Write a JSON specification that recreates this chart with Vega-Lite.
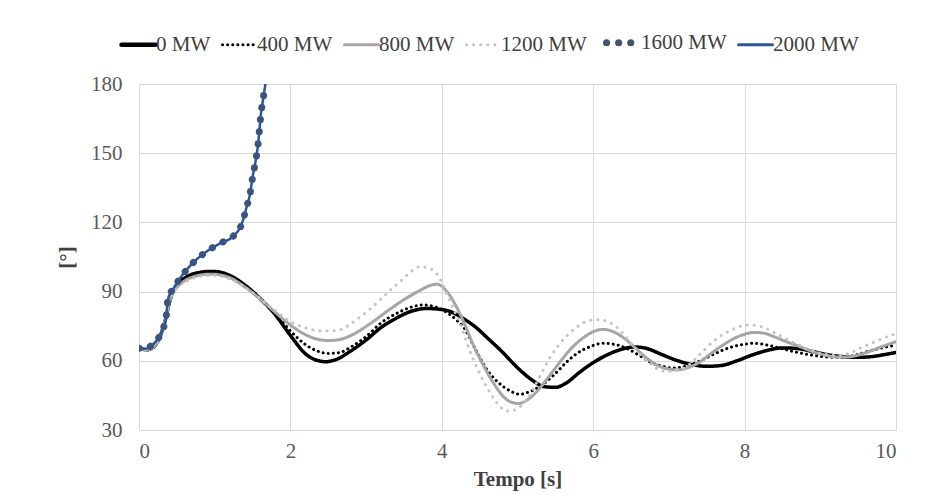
{
  "$schema": "https://vega.github.io/schema/vega-lite/v6.json",
  "width": 757,
  "height": 346,
  "autosize": {"type": "none"},
  "padding": {"left": 139, "top": 84, "right": 29, "bottom": 73},
  "background": "white",
  "config": {
    "font": "Times New Roman",
    "view": {"stroke": null},
    "axis": {"grid": true, "gridColor": "#D9D9D9", "gridWidth": 1, "domain": false, "ticks": false, "labelFont": "Times New Roman", "labelFontSize": 21, "labelColor": "#595959", "titleFont": "Times New Roman", "titleFontSize": 21, "titleFontWeight": "bold", "titleColor": "#404040"},
    "legend": {"labelFont": "Times New Roman", "labelFontSize": 21}
  },
  "data": {"values": [
    {"s":"0 MW","t":0,"v":65.5},{"s":"0 MW","t":0.1,"v":64.8},{"s":"0 MW","t":0.2,"v":66.2},{"s":"0 MW","t":0.3,"v":72.5},{"s":"0 MW","t":0.35,"v":78},{"s":"0 MW","t":0.4,"v":85},{"s":"0 MW","t":0.45,"v":90},{"s":"0 MW","t":0.5,"v":93},{"s":"0 MW","t":0.6,"v":95.8},{"s":"0 MW","t":0.7,"v":97.5},{"s":"0 MW","t":0.8,"v":98.3},{"s":"0 MW","t":0.9,"v":98.7},{"s":"0 MW","t":1.0,"v":98.7},{"s":"0 MW","t":1.1,"v":98.2},{"s":"0 MW","t":1.2,"v":97},{"s":"0 MW","t":1.4,"v":92.8},{"s":"0 MW","t":1.6,"v":87},{"s":"0 MW","t":1.8,"v":80},{"s":"0 MW","t":2.0,"v":71},{"s":"0 MW","t":2.2,"v":63},{"s":"0 MW","t":2.35,"v":60.2},{"s":"0 MW","t":2.47,"v":59.6},{"s":"0 MW","t":2.6,"v":60.5},{"s":"0 MW","t":2.8,"v":64.3},{"s":"0 MW","t":3.0,"v":69},{"s":"0 MW","t":3.2,"v":74.5},{"s":"0 MW","t":3.4,"v":78.5},{"s":"0 MW","t":3.6,"v":81.5},{"s":"0 MW","t":3.8,"v":82.7},{"s":"0 MW","t":3.95,"v":82.4},{"s":"0 MW","t":4.1,"v":81.5},{"s":"0 MW","t":4.3,"v":78},{"s":"0 MW","t":4.45,"v":74.5},{"s":"0 MW","t":4.6,"v":70},{"s":"0 MW","t":4.8,"v":63.8},{"s":"0 MW","t":5.0,"v":57},{"s":"0 MW","t":5.2,"v":51.5},{"s":"0 MW","t":5.35,"v":48.8},{"s":"0 MW","t":5.5,"v":48.5},{"s":"0 MW","t":5.65,"v":50.5},{"s":"0 MW","t":5.8,"v":54.5},{"s":"0 MW","t":6.0,"v":59.2},{"s":"0 MW","t":6.2,"v":62.8},{"s":"0 MW","t":6.4,"v":65.2},{"s":"0 MW","t":6.55,"v":66},{"s":"0 MW","t":6.7,"v":65.4},{"s":"0 MW","t":6.9,"v":62.8},{"s":"0 MW","t":7.1,"v":60.2},{"s":"0 MW","t":7.3,"v":58.4},{"s":"0 MW","t":7.5,"v":57.6},{"s":"0 MW","t":7.7,"v":58},{"s":"0 MW","t":7.9,"v":60},{"s":"0 MW","t":8.1,"v":62.5},{"s":"0 MW","t":8.3,"v":64.5},{"s":"0 MW","t":8.5,"v":65.6},{"s":"0 MW","t":8.7,"v":65.3},{"s":"0 MW","t":8.9,"v":64},{"s":"0 MW","t":9.1,"v":62.6},{"s":"0 MW","t":9.3,"v":61.8},{"s":"0 MW","t":9.5,"v":61.5},{"s":"0 MW","t":9.7,"v":61.9},{"s":"0 MW","t":9.85,"v":62.7},{"s":"0 MW","t":10,"v":63.6},

    {"s":"400 MW","t":0,"v":65.5},{"s":"400 MW","t":0.1,"v":64.8},{"s":"400 MW","t":0.2,"v":66.2},{"s":"400 MW","t":0.3,"v":72.5},{"s":"400 MW","t":0.35,"v":78},{"s":"400 MW","t":0.4,"v":85},{"s":"400 MW","t":0.45,"v":89.8},{"s":"400 MW","t":0.5,"v":92.5},{"s":"400 MW","t":0.6,"v":95.3},{"s":"400 MW","t":0.7,"v":96.9},{"s":"400 MW","t":0.8,"v":97.7},{"s":"400 MW","t":0.9,"v":98},{"s":"400 MW","t":1.0,"v":98},{"s":"400 MW","t":1.1,"v":97.5},{"s":"400 MW","t":1.2,"v":96.3},{"s":"400 MW","t":1.4,"v":92.3},{"s":"400 MW","t":1.6,"v":86.8},{"s":"400 MW","t":1.8,"v":80.5},{"s":"400 MW","t":2.0,"v":73},{"s":"400 MW","t":2.2,"v":67},{"s":"400 MW","t":2.35,"v":64.3},{"s":"400 MW","t":2.5,"v":63.2},{"s":"400 MW","t":2.65,"v":63.6},{"s":"400 MW","t":2.8,"v":66},{"s":"400 MW","t":3.0,"v":70.5},{"s":"400 MW","t":3.2,"v":76.5},{"s":"400 MW","t":3.4,"v":80.5},{"s":"400 MW","t":3.6,"v":83.3},{"s":"400 MW","t":3.75,"v":84.2},{"s":"400 MW","t":3.9,"v":83.5},{"s":"400 MW","t":4.0,"v":82.2},{"s":"400 MW","t":4.2,"v":77.5},{"s":"400 MW","t":4.3,"v":74},{"s":"400 MW","t":4.42,"v":66.5},{"s":"400 MW","t":4.6,"v":56},{"s":"400 MW","t":4.75,"v":50.5},{"s":"400 MW","t":4.9,"v":47},{"s":"400 MW","t":5.03,"v":45.5},{"s":"400 MW","t":5.15,"v":46.5},{"s":"400 MW","t":5.3,"v":49},{"s":"400 MW","t":5.5,"v":54.5},{"s":"400 MW","t":5.65,"v":59.5},{"s":"400 MW","t":5.8,"v":63.5},{"s":"400 MW","t":5.95,"v":66},{"s":"400 MW","t":6.13,"v":67.6},{"s":"400 MW","t":6.3,"v":67},{"s":"400 MW","t":6.45,"v":65.3},{"s":"400 MW","t":6.6,"v":62.5},{"s":"400 MW","t":6.75,"v":59.5},{"s":"400 MW","t":6.9,"v":57.8},{"s":"400 MW","t":7.05,"v":56.9},{"s":"400 MW","t":7.2,"v":57.5},{"s":"400 MW","t":7.4,"v":59.8},{"s":"400 MW","t":7.6,"v":63},{"s":"400 MW","t":7.8,"v":65.7},{"s":"400 MW","t":8.0,"v":67.2},{"s":"400 MW","t":8.12,"v":67.6},{"s":"400 MW","t":8.3,"v":66.8},{"s":"400 MW","t":8.5,"v":65.2},{"s":"400 MW","t":8.7,"v":63.6},{"s":"400 MW","t":8.9,"v":62.4},{"s":"400 MW","t":9.1,"v":61.6},{"s":"400 MW","t":9.3,"v":61.5},{"s":"400 MW","t":9.45,"v":62.3},{"s":"400 MW","t":9.6,"v":63.8},{"s":"400 MW","t":9.8,"v":65.5},{"s":"400 MW","t":10,"v":66.8},

    {"s":"800 MW","t":0,"v":65.5},{"s":"800 MW","t":0.1,"v":64.8},{"s":"800 MW","t":0.2,"v":66.2},{"s":"800 MW","t":0.3,"v":72.5},{"s":"800 MW","t":0.35,"v":78},{"s":"800 MW","t":0.4,"v":85},{"s":"800 MW","t":0.45,"v":89.5},{"s":"800 MW","t":0.5,"v":91.8},{"s":"800 MW","t":0.6,"v":94.6},{"s":"800 MW","t":0.7,"v":96.2},{"s":"800 MW","t":0.8,"v":97.1},{"s":"800 MW","t":0.9,"v":97.5},{"s":"800 MW","t":1.0,"v":97.5},{"s":"800 MW","t":1.1,"v":97},{"s":"800 MW","t":1.2,"v":96},{"s":"800 MW","t":1.4,"v":92},{"s":"800 MW","t":1.6,"v":86.8},{"s":"800 MW","t":1.8,"v":81},{"s":"800 MW","t":2.0,"v":75.5},{"s":"800 MW","t":2.2,"v":71.3},{"s":"800 MW","t":2.35,"v":69.4},{"s":"800 MW","t":2.5,"v":68.8},{"s":"800 MW","t":2.65,"v":69.2},{"s":"800 MW","t":2.8,"v":71},{"s":"800 MW","t":3.05,"v":76},{"s":"800 MW","t":3.3,"v":82},{"s":"800 MW","t":3.5,"v":86.5},{"s":"800 MW","t":3.7,"v":90.3},{"s":"800 MW","t":3.85,"v":92.7},{"s":"800 MW","t":3.93,"v":93.2},{"s":"800 MW","t":4.0,"v":92.3},{"s":"800 MW","t":4.08,"v":89.5},{"s":"800 MW","t":4.2,"v":83},{"s":"800 MW","t":4.3,"v":76},{"s":"800 MW","t":4.42,"v":66.5},{"s":"800 MW","t":4.55,"v":58},{"s":"800 MW","t":4.68,"v":50.5},{"s":"800 MW","t":4.8,"v":45},{"s":"800 MW","t":4.92,"v":42},{"s":"800 MW","t":5.02,"v":41.5},{"s":"800 MW","t":5.12,"v":42.8},{"s":"800 MW","t":5.25,"v":46.5},{"s":"800 MW","t":5.4,"v":52.5},{"s":"800 MW","t":5.55,"v":59},{"s":"800 MW","t":5.7,"v":65},{"s":"800 MW","t":5.85,"v":69.5},{"s":"800 MW","t":6.0,"v":72.6},{"s":"800 MW","t":6.13,"v":73.6},{"s":"800 MW","t":6.25,"v":72.8},{"s":"800 MW","t":6.4,"v":70},{"s":"800 MW","t":6.55,"v":65.8},{"s":"800 MW","t":6.7,"v":61.3},{"s":"800 MW","t":6.85,"v":58},{"s":"800 MW","t":7.0,"v":56.4},{"s":"800 MW","t":7.12,"v":56.1},{"s":"800 MW","t":7.25,"v":57},{"s":"800 MW","t":7.4,"v":59.3},{"s":"800 MW","t":7.55,"v":63},{"s":"800 MW","t":7.7,"v":66.5},{"s":"800 MW","t":7.85,"v":69.5},{"s":"800 MW","t":8.0,"v":71.5},{"s":"800 MW","t":8.12,"v":72.3},{"s":"800 MW","t":8.25,"v":72},{"s":"800 MW","t":8.4,"v":70.3},{"s":"800 MW","t":8.55,"v":68.3},{"s":"800 MW","t":8.7,"v":66.5},{"s":"800 MW","t":8.9,"v":64},{"s":"800 MW","t":9.1,"v":62.2},{"s":"800 MW","t":9.25,"v":61.6},{"s":"800 MW","t":9.4,"v":61.8},{"s":"800 MW","t":9.6,"v":63.5},{"s":"800 MW","t":9.8,"v":66},{"s":"800 MW","t":10,"v":68.3},

    {"s":"1200 MW","t":0,"v":65.5},{"s":"1200 MW","t":0.1,"v":64.8},{"s":"1200 MW","t":0.2,"v":66.2},{"s":"1200 MW","t":0.3,"v":72.5},{"s":"1200 MW","t":0.35,"v":78},{"s":"1200 MW","t":0.4,"v":85},{"s":"1200 MW","t":0.45,"v":89.3},{"s":"1200 MW","t":0.5,"v":91.5},{"s":"1200 MW","t":0.6,"v":94},{"s":"1200 MW","t":0.7,"v":95.6},{"s":"1200 MW","t":0.8,"v":96.5},{"s":"1200 MW","t":0.9,"v":97},{"s":"1200 MW","t":1.0,"v":97},{"s":"1200 MW","t":1.1,"v":96.5},{"s":"1200 MW","t":1.2,"v":95.5},{"s":"1200 MW","t":1.4,"v":91.8},{"s":"1200 MW","t":1.6,"v":87},{"s":"1200 MW","t":1.8,"v":81.8},{"s":"1200 MW","t":2.0,"v":77},{"s":"1200 MW","t":2.2,"v":74.3},{"s":"1200 MW","t":2.4,"v":73},{"s":"1200 MW","t":2.6,"v":73},{"s":"1200 MW","t":2.75,"v":75},{"s":"1200 MW","t":2.92,"v":79},{"s":"1200 MW","t":3.05,"v":82.3},{"s":"1200 MW","t":3.18,"v":86.3},{"s":"1200 MW","t":3.3,"v":90},{"s":"1200 MW","t":3.45,"v":94.3},{"s":"1200 MW","t":3.6,"v":98.8},{"s":"1200 MW","t":3.71,"v":100.8},{"s":"1200 MW","t":3.82,"v":100.2},{"s":"1200 MW","t":3.93,"v":97.9},{"s":"1200 MW","t":4.0,"v":94},{"s":"1200 MW","t":4.06,"v":89.5},{"s":"1200 MW","t":4.15,"v":82.8},{"s":"1200 MW","t":4.24,"v":76.2},{"s":"1200 MW","t":4.33,"v":68},{"s":"1200 MW","t":4.42,"v":60.3},{"s":"1200 MW","t":4.5,"v":54.5},{"s":"1200 MW","t":4.59,"v":48.8},{"s":"1200 MW","t":4.7,"v":43},{"s":"1200 MW","t":4.8,"v":39.2},{"s":"1200 MW","t":4.88,"v":38.2},{"s":"1200 MW","t":4.96,"v":38.6},{"s":"1200 MW","t":5.05,"v":40.5},{"s":"1200 MW","t":5.2,"v":47.5},{"s":"1200 MW","t":5.3,"v":53.5},{"s":"1200 MW","t":5.43,"v":61.5},{"s":"1200 MW","t":5.55,"v":67},{"s":"1200 MW","t":5.65,"v":70.8},{"s":"1200 MW","t":5.76,"v":74},{"s":"1200 MW","t":5.87,"v":76.5},{"s":"1200 MW","t":6.0,"v":77.7},{"s":"1200 MW","t":6.09,"v":77.8},{"s":"1200 MW","t":6.2,"v":76.8},{"s":"1200 MW","t":6.31,"v":74.5},{"s":"1200 MW","t":6.42,"v":70.8},{"s":"1200 MW","t":6.53,"v":66.3},{"s":"1200 MW","t":6.64,"v":62},{"s":"1200 MW","t":6.75,"v":58.8},{"s":"1200 MW","t":6.86,"v":56.3},{"s":"1200 MW","t":6.97,"v":55.3},{"s":"1200 MW","t":7.08,"v":55.6},{"s":"1200 MW","t":7.24,"v":57.6},{"s":"1200 MW","t":7.37,"v":61.5},{"s":"1200 MW","t":7.5,"v":65.8},{"s":"1200 MW","t":7.65,"v":70},{"s":"1200 MW","t":7.8,"v":73},{"s":"1200 MW","t":7.93,"v":74.8},{"s":"1200 MW","t":8.03,"v":75.5},{"s":"1200 MW","t":8.15,"v":75.3},{"s":"1200 MW","t":8.25,"v":74.5},{"s":"1200 MW","t":8.4,"v":72},{"s":"1200 MW","t":8.55,"v":69.5},{"s":"1200 MW","t":8.69,"v":67.3},{"s":"1200 MW","t":8.85,"v":65},{"s":"1200 MW","t":9.0,"v":63.3},{"s":"1200 MW","t":9.15,"v":62.4},{"s":"1200 MW","t":9.26,"v":62.3},{"s":"1200 MW","t":9.4,"v":63.5},{"s":"1200 MW","t":9.55,"v":65.8},{"s":"1200 MW","t":9.7,"v":68},{"s":"1200 MW","t":9.85,"v":70},{"s":"1200 MW","t":10,"v":71.8},

    {"s":"1600 MW","t":0,"v":65.5},{"s":"1600 MW","t":0.08,"v":65.2},{"s":"1600 MW","t":0.17,"v":66.8},{"s":"1600 MW","t":0.25,"v":69.5},{"s":"1600 MW","t":0.3,"v":72.6},{"s":"1600 MW","t":0.36,"v":79.4},{"s":"1600 MW","t":0.38,"v":86.3},{"s":"1600 MW","t":0.47,"v":92.1},{"s":"1600 MW","t":0.59,"v":97.9},{"s":"1600 MW","t":0.73,"v":103},{"s":"1600 MW","t":0.89,"v":107.3},{"s":"1600 MW","t":1.07,"v":110.9},{"s":"1600 MW","t":1.25,"v":114.2},{"s":"1600 MW","t":1.36,"v":119.6},{"s":"1600 MW","t":1.42,"v":126.5},{"s":"1600 MW","t":1.47,"v":132.9},{"s":"1600 MW","t":1.5,"v":139.5},{"s":"1600 MW","t":1.54,"v":146.5},{"s":"1600 MW","t":1.57,"v":153.1},{"s":"1600 MW","t":1.59,"v":159.7},{"s":"1600 MW","t":1.61,"v":166.8},{"s":"1600 MW","t":1.64,"v":173.5},{"s":"1600 MW","t":1.67,"v":180},

    {"s":"2000 MW","t":0,"v":65.5},{"s":"2000 MW","t":0.08,"v":65.2},{"s":"2000 MW","t":0.17,"v":66.8},{"s":"2000 MW","t":0.25,"v":69.5},{"s":"2000 MW","t":0.3,"v":72.6},{"s":"2000 MW","t":0.36,"v":79.4},{"s":"2000 MW","t":0.38,"v":86.3},{"s":"2000 MW","t":0.47,"v":92.1},{"s":"2000 MW","t":0.59,"v":97.9},{"s":"2000 MW","t":0.73,"v":103},{"s":"2000 MW","t":0.89,"v":107.3},{"s":"2000 MW","t":1.07,"v":110.9},{"s":"2000 MW","t":1.25,"v":114.2},{"s":"2000 MW","t":1.36,"v":119.6},{"s":"2000 MW","t":1.42,"v":126.5},{"s":"2000 MW","t":1.47,"v":132.9},{"s":"2000 MW","t":1.5,"v":139.5},{"s":"2000 MW","t":1.54,"v":146.5},{"s":"2000 MW","t":1.57,"v":153.1},{"s":"2000 MW","t":1.59,"v":159.7},{"s":"2000 MW","t":1.61,"v":166.8},{"s":"2000 MW","t":1.64,"v":173.5},{"s":"2000 MW","t":1.67,"v":180}
  ]},
  "encoding": {
    "x": {"field": "t", "type": "quantitative", "scale": {"domain": [0, 10], "nice": false}, "axis": {"values": [0, 2, 4, 6, 8, 10], "title": "Tempo [s]", "labelPadding": 10, "titlePadding": 7}},
    "y": {"field": "v", "type": "quantitative", "scale": {"domain": [30, 180], "nice": false}, "axis": {"values": [30, 60, 90, 120, 150, 180], "title": "[°]", "labelPadding": 17, "titlePadding": 13}},
    "color": {"field": "s", "type": "nominal", "sort": null,
      "scale": {"domain": ["0 MW", "400 MW", "800 MW", "1200 MW", "1600 MW", "2000 MW"], "range": ["#000000", "#000000", "#A6A6A6", "#C4C4C4", "#44546A", "#2F5597"]},
      "legend": {"title": null, "orient": "none", "direction": "horizontal", "legendX": -11, "legendY": -52, "symbolType": "stroke", "symbolSize": 1156, "labelFont": "Times New Roman", "labelFontSize": 21, "labelColor": "#404040", "labelOffset": 7, "columnPadding": 5, "padding": 0,
        "encode": {"symbols": {"update": {"strokeCap": {"value": "round"}, "strokeWidth": {"signal": "datum.value === '1600 MW' ? 7 : (datum.value === '0 MW' ? 4.5 : 3)"}}}}}},
    "strokeDash": {"field": "s", "type": "nominal", "sort": null,
      "scale": {"domain": ["0 MW", "400 MW", "800 MW", "1200 MW", "1600 MW", "2000 MW"], "range": [[1, 0], [0.1, 5], [1, 0], [0.1, 7], [0.1, 12], [1, 0]]},
      "legend": {"title": null, "labelFont": "Times New Roman", "labelFontSize": 21}}
  },
  "layer": [
    {"transform": [{"filter": "datum.s === '0 MW'"}], "mark": {"type": "line", "strokeWidth": 3.5, "strokeCap": "round", "interpolate": "monotone", "clip": true}},
    {"transform": [{"filter": "datum.s === '400 MW' || datum.s === '800 MW' || datum.s === '1200 MW'"}], "mark": {"type": "line", "strokeWidth": 3, "strokeCap": "round", "interpolate": "monotone", "clip": true}},
    {"transform": [{"filter": "datum.s === '1600 MW'"}], "mark": {"type": "line", "strokeWidth": 7, "strokeCap": "round", "interpolate": "monotone", "clip": true}},
    {"transform": [{"filter": "datum.s === '2000 MW'"}], "mark": {"type": "line", "strokeWidth": 2.5, "strokeCap": "round", "interpolate": "monotone", "clip": true}}
  ]
}
